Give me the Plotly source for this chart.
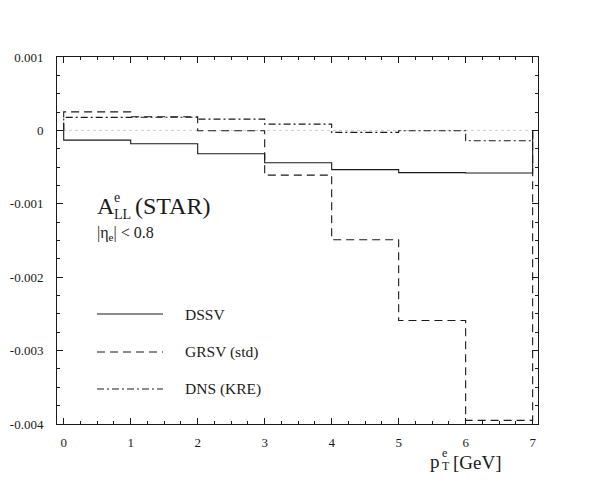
import plotly.graph_objects as go

# ---------------- data ----------------
bin_edges = [0, 1, 2, 3, 4, 5, 6, 7]
dssv = [-0.000132, -0.000182, -0.000318, -0.00044, -0.000535, -0.000575, -0.00058]
grsv = [0.000253, 0.000185, -0.000005, -0.00061, -0.00149, -0.00259, -0.00395]
dns = [0.000177, 0.000180, 0.000153, 0.000086, -0.000027, -0.000005, -0.00014]
series_names = ["DSSV", "GRSV (std)", "DNS (KRE)"]
x_tick_vals = [0, 1, 2, 3, 4, 5, 6, 7]
x_tick_text = ["0", "1", "2", "3", "4", "5", "6", "7"]
y_tick_vals = [0.001, 0.0, -0.001, -0.002, -0.003, -0.004]
y_tick_text = ["0.001", "0", "-0.001", "-0.002", "-0.003", "-0.004"]

FONT = "Liberation Serif, DejaVu Serif, serif"
INK = "#1a1a1a"


def histo_steps(edges, vals):
    xs, ys = [edges[0]], [0.0]
    for i, v in enumerate(vals):
        xs += [edges[i], edges[i + 1]]
        ys += [v, v]
    xs.append(edges[-1])
    ys.append(0.0)
    return xs, ys


styles = [
    dict(dash="solid"),
    dict(dash="8px,5px"),
    dict(dash="7px,3px,2px,3px"),
]

fig = go.Figure()
for vals, name, st in zip([dssv, grsv, dns], series_names, styles):
    xs, ys = histo_steps(bin_edges, vals)
    fig.add_trace(go.Scatter(x=xs, y=ys, mode="lines", name=name,
                             line=dict(color=INK, width=1.1, dash=st["dash"]),
                             showlegend=False, hoverinfo="skip"))

# plot-area geometry (px) used for placing overlay text
W, H = 595, 482
L, R, T, B = 57, 57, 57, 58
PW, PH = W - L - R, H - T - B


def px(xp):
    return (xp - L) / PW


def py(yp):
    return (H - B - yp) / PH


shapes = [
    dict(type="line", xref="x", yref="y", x0=-0.1, x1=7.08, y0=0, y1=0,
         line=dict(color="#aaaaaa", width=0.6, dash="dot"), layer="below"),
]
annotations = []

# legend (manual, matching the reference layout)
leg_y = [314, 352, 389]
for name, st, yy in zip(series_names, styles, leg_y):
    shapes.append(dict(type="line", xref="paper", yref="paper",
                       x0=px(97), x1=px(163), y0=py(yy), y1=py(yy),
                       line=dict(color=INK, width=1.1, dash=st["dash"])))
    annotations.append(dict(xref="paper", yref="paper", x=px(183), y=py(yy),
                            text=name, showarrow=False, xanchor="left", yanchor="middle",
                            font=dict(family=FONT, size=15.5, color=INK)))

# title  A^e_LL (STAR)
annotations += [
    dict(xref="paper", yref="paper", x=px(95), y=py(206), text="A", showarrow=False,
         xanchor="left", yanchor="middle", font=dict(family=FONT, size=24, color=INK)),
    dict(xref="paper", yref="paper", x=px(112), y=py(197), text="e", showarrow=False,
         xanchor="left", yanchor="middle", font=dict(family=FONT, size=14, color=INK)),
    dict(xref="paper", yref="paper", x=px(112), y=py(214), text="LL", showarrow=False,
         xanchor="left", yanchor="middle", font=dict(family=FONT, size=14, color=INK)),
    dict(xref="paper", yref="paper", x=px(133), y=py(206), text="(STAR)", showarrow=False,
         xanchor="left", yanchor="middle", font=dict(family=FONT, size=24, color=INK)),
    dict(xref="paper", yref="paper", x=px(95), y=py(233), text="|η<sub>e</sub>| < 0.8",
         showarrow=False, xanchor="left", yanchor="middle",
         font=dict(family=FONT, size=16, color=INK)),
    # x-axis label  p^e_T [GeV]
    dict(xref="paper", yref="paper", x=px(428), y=py(461), text="p", showarrow=False,
         xanchor="left", yanchor="middle", font=dict(family=FONT, size=19, color=INK)),
    dict(xref="paper", yref="paper", x=px(440), y=py(453), text="e", showarrow=False,
         xanchor="left", yanchor="middle", font=dict(family=FONT, size=12, color=INK)),
    dict(xref="paper", yref="paper", x=px(440), y=py(466), text="T", showarrow=False,
         xanchor="left", yanchor="middle", font=dict(family=FONT, size=12, color=INK)),
    dict(xref="paper", yref="paper", x=px(451), y=py(463), text="[GeV]", showarrow=False,
         xanchor="left", yanchor="middle", font=dict(family=FONT, size=19, color=INK)),
]

axis_common = dict(showline=True, linecolor=INK, linewidth=1, mirror="allticks",
                   ticks="inside", ticklen=6, tickcolor=INK, tickwidth=1,
                   showgrid=False, zeroline=False, automargin=False,
                   tickfont=dict(family=FONT, size=13, color=INK))

fig.update_layout(
    width=W, height=H,
    margin=dict(l=L, r=R, t=T, b=B, autoexpand=False),
    paper_bgcolor="white", plot_bgcolor="white",
    font=dict(family=FONT, color=INK),
    shapes=shapes, annotations=annotations,
    xaxis=dict(range=[-0.1, 7.08], tickvals=x_tick_vals, ticktext=x_tick_text,
               minor=dict(dtick=0.25, tick0=0, ticks="inside", ticklen=3,
                          tickcolor=INK, showgrid=False),
               ticklabelstandoff=6, **axis_common),
    yaxis=dict(range=[-0.004, 0.001], tickvals=y_tick_vals, ticktext=y_tick_text,
               minor=dict(dtick=0.00025, tick0=0, ticks="inside", ticklen=3,
                          tickcolor=INK, showgrid=False),
               ticklabelstandoff=10, **axis_common),
)

fig.write_html("out.html", config={"displayModeBar": False},
               post_script="document.body.style.margin='0';document.body.style.padding='0';")
